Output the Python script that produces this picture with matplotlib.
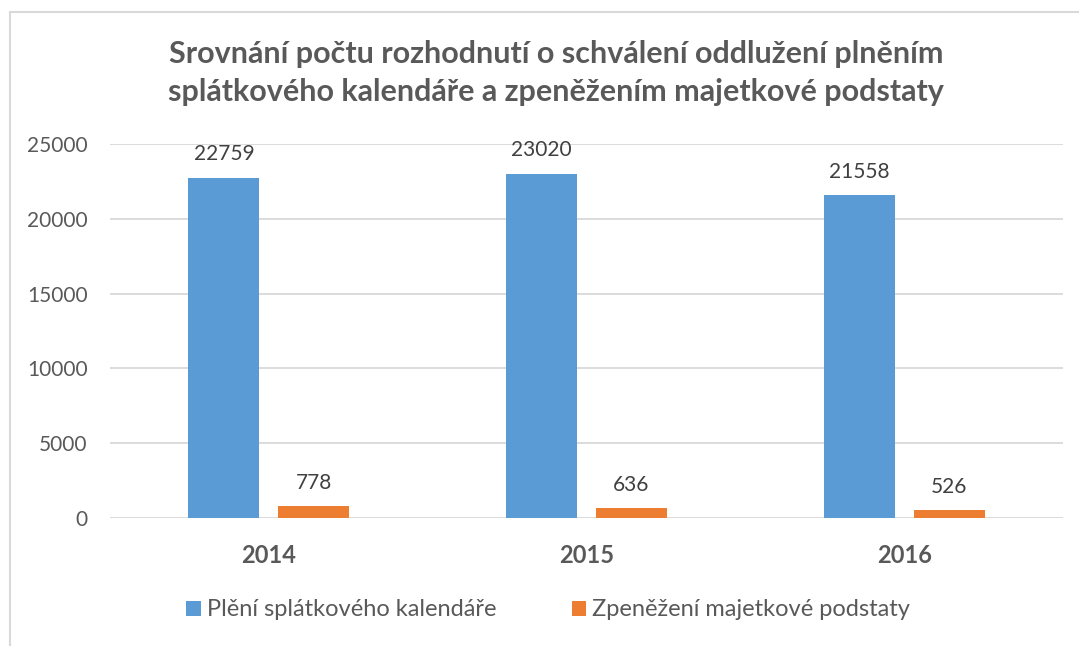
import numpy as np
import matplotlib.pyplot as plt
from matplotlib.lines import Line2D

plt.rcParams['font.family'] = ['Lato', 'DejaVu Sans']

# data
roky = ['2014', '2015', '2016']
splatkovy = [22759, 23020, 21558]
zpenezeni = [778, 636, 526]
nazvy = ['Plění splátkového kalendáře', 'Zpeněžení majetkové podstaty']
titulek = ('Srovnání počtu rozhodnutí o schválení oddlužení plněním\n'
           'splátkového kalendáře a zpeněžením majetkové podstaty')

modra, oranzova = '#5B9BD5', '#ED7D31'
seda_text = '#595959'

fig = plt.figure(figsize=(10.79, 6.46), dpi=100)
ax = fig.add_axes([110 / 1079, 128 / 646, 953 / 1079, 374 / 646])

x = np.arange(len(roky)) + 0.5
sirka = 0.2235
posun = 0.1415
b1 = ax.bar(x - posun, splatkovy, sirka, color=modra, label=nazvy[0], zorder=2)
b2 = ax.bar(x + posun, zpenezeni, sirka, color=oranzova, label=nazvy[1], zorder=2)

for bars in (b1, b2):
    for b in bars:
        ax.annotate(str(int(b.get_height())),
                    (b.get_x() + b.get_width() / 2, b.get_height()),
                    xytext=(0, 12.5), textcoords='offset points',
                    ha='center', va='baseline', fontsize=15, color='#404040')

ax.set_xlim(0, 3)
ax.set_ylim(0, 25000)
ax.set_yticks(np.arange(0, 25001, 5000))
ax.set_xticks(x)
ax.set_xticklabels(roky, fontsize=17, fontweight='bold', color=seda_text)
ax.tick_params(axis='y', length=0, pad=16, labelsize=15, labelcolor=seda_text)
ax.tick_params(axis='x', length=0, pad=19)
ax.grid(axis='y', color='#d9d9d9', linewidth=1.3, zorder=0)
for s in ax.spines.values():
    s.set_visible(False)

fig.text(556 / 1079, 1 - 73 / 646, titulek, ha='center', va='center',
         fontsize=22, fontweight='bold', color=seda_text, linespacing=1.4)

fig.legend(loc='center', bbox_to_anchor=(548 / 1079, 1 - 610 / 646), ncol=2,
           frameon=False, fontsize=17, labelcolor=seda_text,
           handlelength=0.6, handleheight=0.6, handletextpad=0.25,
           columnspacing=3.2)

# rámeček grafu (jen horní a levá hrana jsou vidět)
fig.add_artist(Line2D([10 / 1079, 1], [1 - 12 / 646] * 2, color='#d9d9d9', lw=1.5))
fig.add_artist(Line2D([10 / 1079] * 2, [0, 1 - 12 / 646], color='#d9d9d9', lw=1.5))

fig.savefig('out.png', dpi=100)
